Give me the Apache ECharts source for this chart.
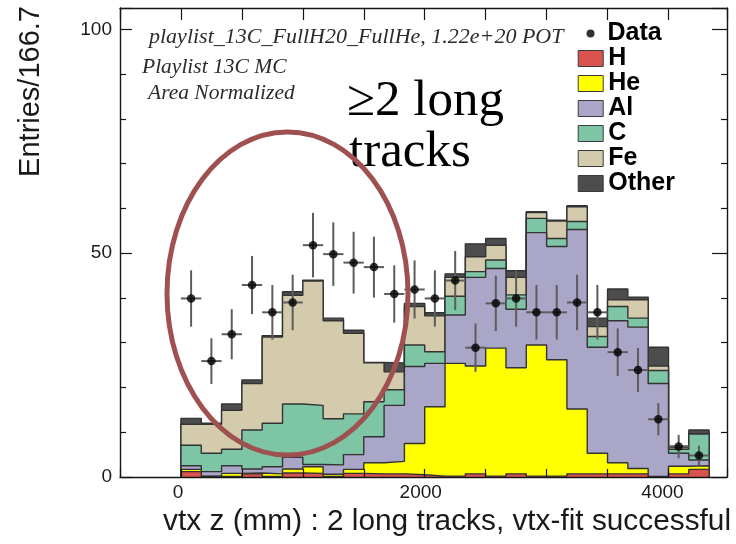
<!DOCTYPE html>
<html>
<head>
<meta charset="utf-8">
<script src="https://cdn.jsdelivr.net/npm/echarts@6/dist/echarts.min.js"></script>
<style>
  html, body { margin: 0; padding: 0; background: #ffffff; }
  #chart { width: 736px; height: 544px; }
</style>
</head>
<body>
<div id="chart"></div>
<script>
// Binning of the vertex-z histogram: 26 bins of 166.7 mm starting at 0 mm
const binWidth = 500 / 3;
const nBins = 26;

// MC components per bin (area normalized), stacked bottom to top: H, He, Al, C, Fe, Other
const mcH     = [1.2, 0.1, 0.1, 0.7, 0.1, 0.9, 0.8, 0.1, 0.8, 0.7, 0.7, 0.5, 0.2, 0.2, 0.7, 0.2, 0.7, 0.2, 0.2, 0.7, 0.7, 0.7, 0.7, 0.05, 0.7, 1.7];
const mcHe    = [0.5, 0.1, 0.7, 0.2, 0.6, 0.9, 1.5, 0.5, 0.9, 2.5, 2.8, 7.0, 15.5, 25.2, 24.1, 28.6, 23.7, 29.3, 26.0, 14.5, 4.6, 2.5, 1.2, 0.05, 1.7, 0.8];
const mcAl    = [0.8, 1.0, 1.7, 0.9, 1.6, 2.6, 0.5, 2.1, 3.3, 5.8, 12.5, 17.2, 9.7, 10.8, 19.8, 17.8, 13.1, 25.1, 25.3, 40.1, 23.7, 31.7, 31.6, 20.8, 2.9, 1.3];
const mcC     = [4.6, 4.1, 3.7, 8.7, 9.7, 11.9, 13.2, 10.3, 9.1, 7.8, 3.5, 4.8, 2.6, 4.2, 1.3, 1.9, 3.2, 3.2, 1.8, 1.8, 2.4, 3.2, 2.0, 2.9, 0.9, 5.8];
const mcFe    = [4.7, 6.5, 8.7, 10.4, 19.3, 24.3, 27.8, 21.9, 18.0, 8.7, 4.0, 8.6, 8.0, 4.2, 3.3, 3.3, 3.9, 1.3, 3.9, 3.3, 2.2, 1.5, 4.1, 1.0, 0.4, 0.1];
const mcOther = [1.3, 0.2, 1.4, 0.8, 0.3, 0.8, 0.2, 0.6, 0.7, 0.1, 2.0, 0.7, 0.7, 0.8, 2.9, 1.5, 1.5, 0.2, 0.2, 0.2, 1.9, 2.4, 0.6, 4.2, 0.3, 0.8];

// Data points and their statistical errors per bin
const dataVals = [39.9, 25.9, 31.9, 42.9, 36.8, 39.0, 51.8, 49.8, 47.9, 46.9, 40.9, 41.9, 39.9, 43.9, 28.9, 38.8, 39.9, 36.8, 36.8, 39.0, 36.8, 27.9, 23.9, 12.9, 6.8, 4.8];
const dataErr  = [6.3, 5.1, 5.6, 6.5, 6.1, 6.2, 7.2, 7.1, 6.9, 6.8, 6.4, 6.5, 6.3, 6.6, 5.4, 6.2, 6.3, 6.1, 6.1, 6.2, 6.1, 5.3, 4.9, 3.6, 2.6, 2.2];

// Axis labels that are printed
const xLabelTicks = [0, 2000, 4000];
const yLabelTicks = [0, 50, 100];

const layerDefs = [
  { name: 'H',     vals: mcH,     color: '#d9534f' },
  { name: 'He',    vals: mcHe,    color: '#ffff00' },
  { name: 'Al',    vals: mcAl,    color: '#aaa6c7' },
  { name: 'C',     vals: mcC,     color: '#7dc5a5' },
  { name: 'Fe',    vals: mcFe,    color: '#d3cbac' },
  { name: 'Other', vals: mcOther, color: '#4d4d4d' }
];

const edges = [];
for (let k = 0; k <= nBins; k++) edges.push(k * binWidth);

// Cumulative tops of the stack, one array per layer
let running = new Array(nBins).fill(0);
const cumulative = layerDefs.map(function (l) {
  running = running.map(function (r, i) { return r + l.vals[i]; });
  return running.slice();
});

// Step outline of a cumulative histogram, closed down to zero at both ends
function stepPoints(tops) {
  const pts = [[edges[0], 0]];
  for (let i = 0; i < nBins; i++) pts.push([edges[i], tops[i]]);
  pts.push([edges[nBins], tops[nBins - 1]]);
  pts.push([edges[nBins], 0]);
  return pts;
}

const outline = '#333333';
const series = [];
// Drawn from the full stack down, so each lower layer covers the previous fill
for (let j = layerDefs.length - 1; j >= 0; j--) {
  series.push({
    type: 'line',
    name: layerDefs[j].name,
    data: stepPoints(cumulative[j]),
    step: 'end',
    showSymbol: false,
    silent: true,
    z: 2 + (layerDefs.length - 1 - j),
    lineStyle: { color: outline, width: 1.4 },
    areaStyle: { color: layerDefs[j].color, opacity: 1 },
    itemStyle: { color: layerDefs[j].color }
  });
}

const pointData = dataVals.map(function (v, i) {
  return [edges[i] + binWidth / 2, v, dataErr[i]];
});

series.push({
  type: 'custom',
  name: 'Data errors',
  silent: true,
  z: 19,
  encode: { x: 0, y: 1 },
  data: pointData,
  renderItem: function (params, api) {
    const x = api.value(0), y = api.value(1), e = api.value(2);
    const lo = api.coord([x, y - e]);
    const hi = api.coord([x, y + e]);
    const l = api.coord([x - binWidth / 2, y]);
    const r = api.coord([x + binWidth / 2, y]);
    return {
      type: 'group',
      children: [
        { type: 'line', shape: { x1: lo[0], y1: lo[1], x2: hi[0], y2: hi[1] }, style: { stroke: '#5c5c5c', lineWidth: 2 } },
        { type: 'line', shape: { x1: l[0], y1: l[1], x2: r[0], y2: r[1] }, style: { stroke: '#5c5c5c', lineWidth: 2 } }
      ]
    };
  }
});

series.push({
  type: 'scatter',
  name: 'Data',
  silent: true,
  z: 20,
  symbol: 'circle',
  symbolSize: 8.5,
  itemStyle: { color: '#000000' },
  data: pointData.map(function (p) { return [p[0], p[1]]; })
});

const axisColor = '#151515';
const sansFont = 'Liberation Sans';

function xAxisDef(pos, tickLen, showLabels) {
  return {
    type: 'value', position: pos, min: -500, max: 4480, interval: 500, z: 30,
    axisLine: { show: true, onZero: false, lineStyle: { color: axisColor, width: 1.4 } },
    axisTick: { show: true, inside: true, length: tickLen, lineStyle: { color: axisColor, width: 1.2 } },
    axisLabel: {
      show: showLabels, margin: 6, fontSize: 19, fontFamily: sansFont, color: '#1a1a1a',
      formatter: function (v) {
        if (v === 0) return '{a|0}';
        if (v === 2000) return '{b|2000}';
        if (v === 4000) return '{c|4000}';
        return '';
      },
      rich: {
        a: { fontSize: 19, fontFamily: sansFont, color: '#1a1a1a', padding: [0, 6, 0, 0] },
        b: { fontSize: 19, fontFamily: sansFont, color: '#1a1a1a', padding: [0, 8, 0, 0] },
        c: { fontSize: 19, fontFamily: sansFont, color: '#1a1a1a', padding: [0, 12, 0, 0] }
      }
    },
    splitLine: { show: false }
  };
}

function yAxisDef(pos, tickLen, showLabels) {
  return {
    type: 'value', position: pos, min: 0, max: 104.8, interval: 50, z: 30,
    axisLine: { show: true, onZero: false, lineStyle: { color: axisColor, width: 1.4 } },
    axisTick: { show: true, inside: true, length: tickLen, lineStyle: { color: axisColor, width: 1.2 } },
    minorTick: { show: true, splitNumber: 5, length: 6, lineStyle: { color: axisColor, width: 1.2 } },
    axisLabel: {
      show: showLabels, margin: 8, fontSize: 19, fontFamily: sansFont, color: '#1a1a1a',
      formatter: function (v) { return yLabelTicks.indexOf(v) >= 0 ? String(v) : ''; }
    },
    splitLine: { show: false },
    minorSplitLine: { show: false }
  };
}

const legendText = { fontSize: 25, fontWeight: 'bold', fontFamily: sansFont, color: '#000000' };

const option = {
  animation: false,
  backgroundColor: '#ffffff',
  grid: { left: 120, top: 8, right: 9, bottom: 67, containLabel: false },
  xAxis: [xAxisDef('bottom', 8, true), xAxisDef('top', 12, false)],
  yAxis: [yAxisDef('left', 12, true), yAxisDef('right', 15, false)],
  legend: [
    {
      orient: 'vertical', left: 586.5, top: 21, padding: 0,
      itemWidth: 8, itemHeight: 8, selectedMode: false,
      textStyle: Object.assign({ padding: [0, 0, 0, 8] }, legendText),
      data: [{ name: 'Data', icon: 'circle', itemStyle: { color: '#000000', borderWidth: 0 } }]
    },
    {
      orient: 'vertical', left: 577.7, top: 46, padding: 0,
      itemWidth: 25, itemHeight: 16, itemGap: 0, selectedMode: false,
      textStyle: legendText,
      data: layerDefs.map(function (l) {
        return { name: l.name, icon: 'rect', itemStyle: { color: l.color, borderColor: '#3a3a3a', borderWidth: 1 } };
      })
    }
  ],
  graphic: [
    { type: 'text', x: 149, y: 37.6, z: 40, silent: true,
      style: { text: 'playlist_13C_FullH20_FullHe, 1.22e+20 POT', fontFamily: 'Liberation Serif', fontStyle: 'italic', fontSize: 22, fill: '#2b2b2b', align: 'left', verticalAlign: 'middle' } },
    { type: 'text', x: 142, y: 67.6, z: 40, silent: true,
      style: { text: 'Playlist 13C MC', fontFamily: 'Liberation Serif', fontStyle: 'italic', fontSize: 21.5, fill: '#2b2b2b', align: 'left', verticalAlign: 'middle' } },
    { type: 'text', x: 148, y: 93.6, z: 40, silent: true,
      style: { text: 'Area Normalized', fontFamily: 'Liberation Serif', fontStyle: 'italic', fontSize: 21.5, fill: '#2b2b2b', align: 'left', verticalAlign: 'middle' } },
    { type: 'text', x: 347, y: 101.4, z: 40, silent: true,
      style: { text: '≥2 long', fontFamily: 'Liberation Serif', fontSize: 51, fill: '#000000', align: 'left', verticalAlign: 'middle' } },
    { type: 'text', x: 349, y: 152.4, z: 40, silent: true,
      style: { text: 'tracks', fontFamily: 'Liberation Serif', fontSize: 51, fill: '#000000', align: 'left', verticalAlign: 'middle' } },
    { type: 'text', x: 731, y: 522, z: 40, silent: true,
      style: { text: 'vtx z (mm) : 2 long tracks, vtx-fit successful', fontFamily: sansFont, fontSize: 29.8, fill: '#1a1a1a', align: 'right', verticalAlign: 'middle' } },
    { type: 'text', x: 31, y: 6, rotation: Math.PI / 2, z: 40, silent: true,
      style: { text: 'Entries/166.7', fontFamily: sansFont, fontSize: 29, fill: '#1a1a1a', align: 'right', verticalAlign: 'middle' } },
    { type: 'ellipse', z: 50, silent: true,
      shape: { cx: 287.5, cy: 293.5, rx: 120.5, ry: 161.5 },
      style: { fill: 'none', stroke: '#9f5151', lineWidth: 5 } }
  ],
  series: series
};

const chart = echarts.init(document.getElementById('chart'), null, { renderer: 'canvas', width: 736, height: 544 });
chart.setOption(option);
</script>
</body>
</html>
